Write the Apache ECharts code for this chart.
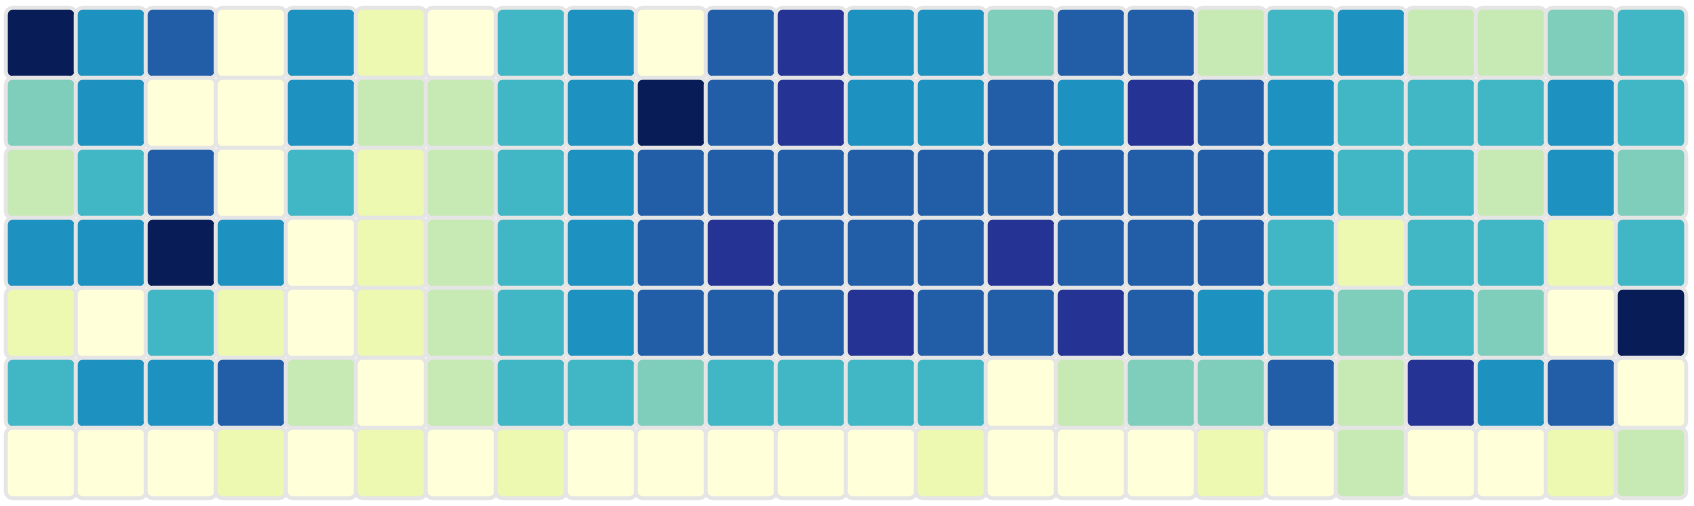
<!DOCTYPE html>
<html>
<head>
<meta charset="utf-8">
<script src="https://cdn.jsdelivr.net/npm/echarts@6/dist/echarts.min.js"></script>
<style>
html,body{margin:0;padding:0;background:#fff;}
#main{width:1694px;height:506px;}
</style>
</head>
<body>
<div id="main"></div>
<script>
// Columns (24) and rows (7), top row first
const hours = ['0','1','2','3','4','5','6','7','8','9','10','11','12','13','14','15','16','17','18','19','20','21','22','23'];
const days = ['Row1','Row2','Row3','Row4','Row5','Row6','Row7'];

// Level values (0..8), one array per row
const row1 = [8,5,6,0,5,1,0,4,5,0,6,7,5,5,3,6,6,2,4,5,2,2,3,4];
const row2 = [3,5,0,0,5,2,2,4,5,8,6,7,5,5,6,5,7,6,5,4,4,4,5,4];
const row3 = [2,4,6,0,4,1,2,4,5,6,6,6,6,6,6,6,6,6,5,4,4,2,5,3];
const row4 = [5,5,8,5,0,1,2,4,5,6,7,6,6,6,7,6,6,6,4,1,4,4,1,4];
const row5 = [1,0,4,1,0,1,2,4,5,6,6,6,7,6,6,7,6,5,4,3,4,3,0,8];
const row6 = [4,5,5,6,2,0,2,4,4,3,4,4,4,4,0,2,3,3,6,2,7,5,6,0];
const row7 = [0,0,0,1,0,1,0,1,0,0,0,0,0,1,0,0,0,1,0,2,0,0,1,2];

const levelColors = ['#ffffd9','#edf8b1','#c7e9b4','#7fcdbb','#41b6c4','#1d91c0','#225ea8','#253494','#081d58'];

const rows = [row1,row2,row3,row4,row5,row6,row7];
const data = [];
rows.forEach((r, yi) => r.forEach((v, xi) => data.push([xi, yi, v])));

const chart = echarts.init(document.getElementById('main'), null, {renderer:'canvas'});
chart.setOption({
  animation: false,
  backgroundColor: '#ffffff',
  grid: {left: 6, right: 8, top: 8, bottom: 8},
  xAxis: {type: 'category', data: hours, show: false},
  yAxis: {type: 'category', data: days, inverse: true, show: false},
  visualMap: {
    type: 'piecewise',
    show: false,
    dimension: 2,
    pieces: levelColors.map((c, i) => ({value: i, color: c}))
  },
  series: [{
    type: 'heatmap',
    data: data,
    itemStyle: {
      borderColor: '#e5e5e5',
      borderWidth: 4,
      borderRadius: 7
    },
    emphasis: {disabled: true}
  }]
});
</script>
</body>
</html>
